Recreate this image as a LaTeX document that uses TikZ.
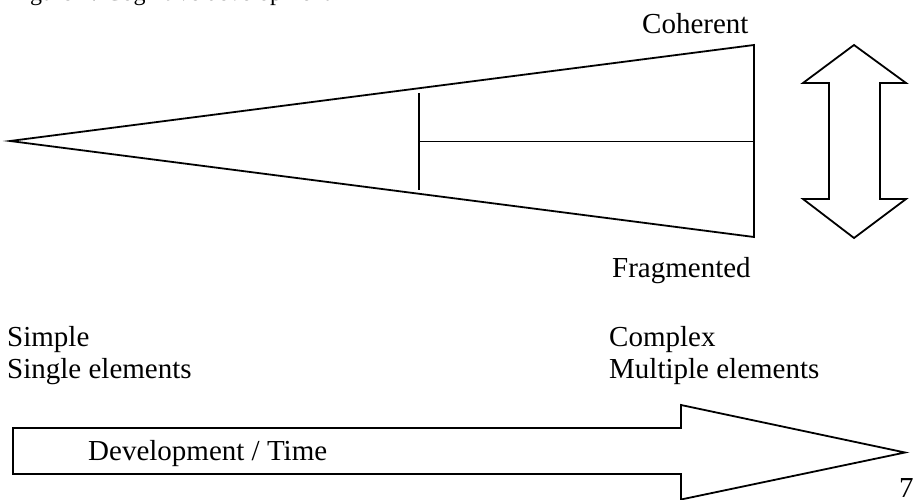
\documentclass[tikz,border=0pt]{standalone}
\usepackage{fontspec}
\setmainfont{Liberation Serif}
\begin{document}
\begin{tikzpicture}[x=1pt,y=-1pt,
  shape line/.style={draw=black, line width=1.8pt, line join=miter},
  lbl/.style={anchor=base west, inner sep=0pt, font=\fontsize{29}{33}\selectfont},
  titlelbl/.style={anchor=base west, inner sep=0pt, font=\fontsize{24}{28}\selectfont}]
\useasboundingbox (0,0) rectangle (918,500);
% caption, cut by the top edge as in the reference
\node[titlelbl] (title) at (10,0.5) {Figure 1: Cognitive development};
% wedge
\coordinate (tip) at (10,141);
\coordinate (tr) at (754,45);
\coordinate (br) at (754,237);
\draw[shape line] (tip) -- (tr) -- (br) -- cycle;
\coordinate (vt) at (419,93);
\coordinate (vb) at (419,190);
\coordinate (hm) at (419,141.5);
\coordinate (hr) at (754,141.5);
\draw[shape line] (vt) -- (vb);
\draw[shape line] (hm) -- (hr);
% double arrow
\draw[shape line] (854,45) -- (906,83) -- (880,83) -- (880,199) -- (906,199)
  -- (854,238) -- (803,199) -- (829,199) -- (829,83) -- (803,83) -- cycle;
% development arrow
\draw[shape line] (13,428) -- (681,428) -- (681,405) -- (905,452.5) -- (681,499.5)
  -- (681,474) -- (13,474) -- cycle;
% labels
\node[lbl] (coh) at (642,34) {Coherent};
\node[lbl] (frag) at (612,277) {Fragmented};
\node[lbl] (simple) at (7,346.7) {Simple};
\node[lbl] (single) at (7,378) {Single elements};
\node[lbl] (complex) at (609,346.7) {Complex};
\node[lbl] (multi) at (609,378) {Multiple elements};
\node[lbl] (dev) at (88,460) {Development / Time};
\node[lbl] (page) at (899,497) {7};
\end{tikzpicture}
\end{document}
